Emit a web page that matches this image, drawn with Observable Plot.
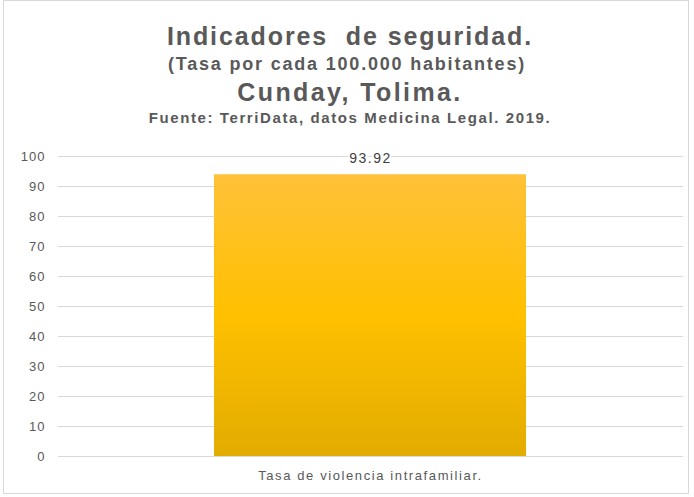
<!DOCTYPE html>
<html>
<head>
<meta charset="utf-8">
<script src="https://cdn.jsdelivr.net/npm/d3@7"></script>
<script src="https://cdn.jsdelivr.net/npm/@observablehq/plot@0.6"></script>
<style>
  html, body { margin: 0; padding: 0; background: #fff; }
  #frame { position: absolute; left: 3px; top: 0px; width: 686px; height: 494px; border: 1px solid #d9d9d9; box-sizing: border-box; }
  #wrap { position: absolute; left: 0; top: 0; width: 694px; height: 497px; font-family: "Liberation Sans", Arial, sans-serif; color: #595959; }
  .t { position: absolute; left: 0; width: 694px; text-align: center; font-weight: bold; white-space: pre; line-height: 1; }
  #chart { position: absolute; left: 0; top: 140px; }
</style>
</head>
<body>
<div id="frame"></div>
<div id="wrap">
  <div class="t" style="top:24px;font-size:25px;letter-spacing:1.9px;left:3px;">Indicadores  de seguridad.</div>
  <div class="t" style="top:55px;font-size:18px;letter-spacing:1.8px;">(Tasa por cada 100.000 habitantes)</div>
  <div class="t" style="top:80px;font-size:25px;letter-spacing:2.4px;left:3px;">Cunday, Tolima.</div>
  <div class="t" style="top:110px;font-size:15px;letter-spacing:1.6px;left:3px;">Fuente: TerriData, datos Medicina Legal. 2019.</div>
  <div id="chart"></div>
</div>
<script>
const categories = ["Tasa de violencia intrafamiliar."];
const values = [93.92];
const yTicks = [0, 10, 20, 30, 40, 50, 60, 70, 80, 90, 100];

const data = categories.map((c, i) => ({category: c, value: values[i]}));

const plot = Plot.plot({
  width: 694,
  height: 355,
  marginTop: 16,
  marginBottom: 39,
  marginLeft: 58,
  marginRight: 11,
  style: {fontFamily: "Liberation Sans, Arial, sans-serif", fontSize: "13px", color: "#595959", background: "transparent"},
  x: {domain: categories, padding: 1/3, label: null},
  y: {domain: [0, 100], label: null},
  marks: [
    Plot.gridY(yTicks, {stroke: "#d9d9d9", strokeOpacity: 1, strokeWidth: 1}),
    Plot.axisY(yTicks, {tickSize: 0, tickPadding: 13, fontSize: 13, fill: "#595959"}),
    Plot.axisX({tickSize: 0, tickPadding: 14, fontSize: 13, fill: "#595959"}),
    Plot.barY(data, {x: "category", y: "value", fill: "url(#barGrad)"}),
    Plot.text(data, {x: "category", y: "value", text: d => d.value.toFixed(2), dy: -16, fontSize: 14, fill: "#404040", stroke: "white", strokeWidth: 4, paintOrder: "stroke"})
  ]
});

const svg = d3.select(plot);
const defs = svg.insert("defs", ":first-child");
const g = defs.append("linearGradient").attr("id", "barGrad").attr("x1", 0).attr("y1", 0).attr("x2", 0).attr("y2", 1);
g.append("stop").attr("offset", "0%").attr("stop-color", "#FFC139");
g.append("stop").attr("offset", "50%").attr("stop-color", "#FFC000");
g.append("stop").attr("offset", "100%").attr("stop-color", "#E2AC00");

// horizontal spacing tweaks to mimic the stretched original text
svg.selectAll('[aria-label="x-axis tick label"] text').style("letter-spacing", "1.6px");
svg.selectAll('[aria-label="y-axis tick label"] text').style("letter-spacing", "1px");
svg.selectAll('[aria-label="text"] text').style("letter-spacing", "1.5px");

document.getElementById("chart").appendChild(plot);
</script>
</body>
</html>
